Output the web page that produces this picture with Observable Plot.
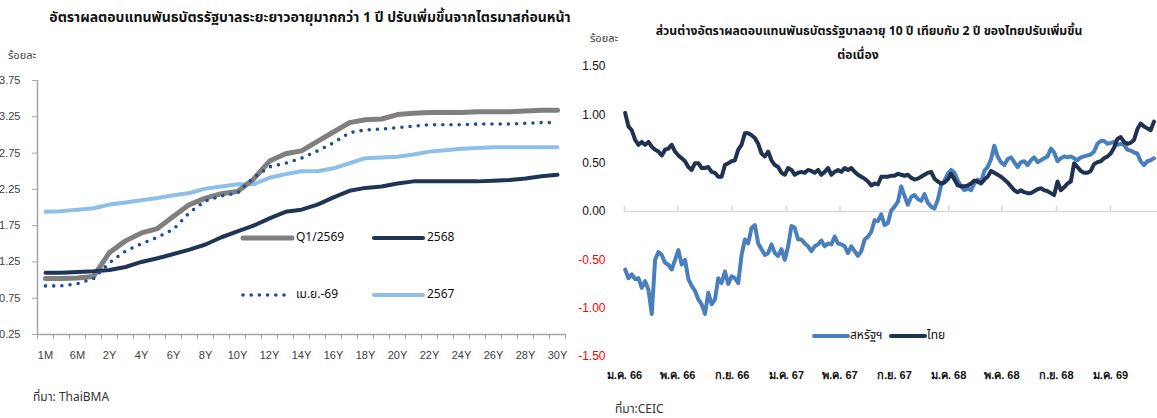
<!DOCTYPE html>
<html><head><meta charset="utf-8">
<script src="https://cdn.jsdelivr.net/npm/d3@7"></script>
<script src="https://cdn.jsdelivr.net/npm/@observablehq/plot@0.6"></script>
<style>
body{margin:0;background:#fff;}
#root{position:relative;width:1157px;height:418px;overflow:hidden;font-family:Tahoma,"Noto Sans Thai","Noto Sans","DejaVu Sans",sans-serif;color:#111;}
.abs{position:absolute;white-space:nowrap;line-height:1;}
.plot{position:absolute;}
</style></head><body><div id="root"></div>
<script>
// ---------- Left chart data: Thai government bond yield curve ----------
const tenors = ["1M","3M","6M","1Y","2Y","3Y","4Y","5Y","6Y","7Y","8Y","9Y","10Y","11Y","12Y","13Y","14Y","15Y","16Y","17Y","18Y","19Y","20Y","21Y","22Y","23Y","24Y","25Y","26Y","27Y","28Y","29Y","30Y"];
const yieldQ1_2569 = [1.02,1.02,1.03,1.05,1.38,1.54,1.65,1.71,1.88,2.04,2.13,2.19,2.22,2.39,2.64,2.74,2.78,2.91,3.04,3.17,3.21,3.22,3.28,3.30,3.31,3.31,3.31,3.32,3.32,3.32,3.33,3.34,3.34];
const yield2568 = [1.10,1.10,1.11,1.12,1.14,1.18,1.25,1.30,1.36,1.42,1.49,1.59,1.67,1.75,1.85,1.94,1.97,2.04,2.14,2.23,2.27,2.29,2.33,2.36,2.36,2.36,2.36,2.36,2.37,2.38,2.40,2.43,2.45];
const yieldApr69 = [0.92,0.92,0.95,1.02,1.24,1.40,1.50,1.59,1.70,1.93,2.09,2.16,2.20,2.41,2.56,2.61,2.68,2.78,2.89,3.03,3.07,3.08,3.10,3.12,3.14,3.14,3.14,3.15,3.15,3.15,3.16,3.17,3.17];
const yield2567 = [1.94,1.95,1.97,1.99,2.04,2.07,2.10,2.13,2.17,2.20,2.26,2.29,2.32,2.32,2.41,2.46,2.50,2.50,2.54,2.61,2.68,2.69,2.70,2.73,2.77,2.79,2.81,2.82,2.83,2.83,2.83,2.83,2.83];
const leftYTicks = [0.25,0.75,1.25,1.75,2.25,2.75,3.25,3.75];

// ---------- Right chart data: 10Y-2Y spread (readings about every 7.5 days from early Jan 2023) ----------
const spreadStart = "2023-01-02T12:00Z";
const spreadStepDays = 7.5;
const spreadThai = [
1.02,0.88,0.84,0.74,0.69,0.72,0.69,0.72,0.67,0.64,
0.62,0.58,0.64,0.65,0.69,0.62,0.58,0.55,0.52,0.46,
0.43,0.50,0.50,0.45,0.45,0.46,0.41,0.40,0.36,0.36,
0.48,0.50,0.52,0.53,0.64,0.69,0.81,0.81,0.79,0.76,
0.70,0.60,0.57,0.62,0.53,0.48,0.46,0.40,0.38,0.45,
0.43,0.38,0.40,0.41,0.40,0.43,0.42,0.40,0.43,0.38,
0.41,0.45,0.38,0.41,0.43,0.41,0.45,0.43,0.45,0.41,
0.38,0.36,0.34,0.31,0.27,0.29,0.28,0.36,0.36,0.36,
0.37,0.37,0.39,0.38,0.37,0.38,0.35,0.33,0.34,0.36,
0.38,0.40,0.41,0.34,0.31,0.29,0.30,0.33,0.39,0.33,
0.27,0.26,0.26,0.27,0.29,0.32,0.31,0.29,0.33,0.36,
0.42,0.40,0.38,0.36,0.33,0.30,0.26,0.22,0.20,0.22,
0.20,0.19,0.19,0.21,0.23,0.24,0.22,0.21,0.19,0.17,
0.31,0.22,0.25,0.29,0.31,0.50,0.46,0.42,0.40,0.40,
0.42,0.49,0.51,0.52,0.55,0.57,0.60,0.66,0.75,0.77,
0.72,0.70,0.71,0.74,0.85,0.91,0.88,0.86,0.84,0.93];
const spreadUS = [
-0.60,-0.69,-0.65,-0.70,-0.69,-0.79,-0.72,-0.81,-1.06,-0.50,
-0.42,-0.45,-0.53,-0.55,-0.60,-0.50,-0.40,-0.55,-0.50,-0.70,
-0.77,-0.82,-0.91,-0.96,-1.06,-0.84,-0.96,-0.91,-0.69,-0.74,
-0.62,-0.75,-0.67,-0.69,-0.74,-0.45,-0.29,-0.33,-0.17,-0.14,
-0.33,-0.39,-0.45,-0.43,-0.34,-0.43,-0.46,-0.39,-0.50,-0.36,
-0.15,-0.17,-0.29,-0.29,-0.33,-0.36,-0.41,-0.36,-0.34,-0.30,
-0.36,-0.33,-0.34,-0.26,-0.33,-0.34,-0.36,-0.43,-0.36,-0.41,
-0.46,-0.41,-0.29,-0.26,-0.21,-0.09,-0.10,-0.03,-0.14,-0.12,
0.01,0.05,0.10,0.26,0.16,0.07,0.15,0.17,0.13,0.11,
0.18,0.09,0.05,0.03,0.12,0.27,0.32,0.39,0.43,0.40,
0.32,0.26,0.22,0.24,0.22,0.29,0.33,0.30,0.42,0.46,
0.54,0.68,0.57,0.51,0.48,0.54,0.56,0.51,0.46,0.51,
0.52,0.48,0.53,0.56,0.51,0.53,0.55,0.57,0.65,0.61,
0.52,0.55,0.57,0.56,0.57,0.55,0.53,0.56,0.57,0.58,
0.59,0.62,0.70,0.73,0.73,0.70,0.71,0.72,0.69,0.70,
0.69,0.64,0.63,0.61,0.60,0.52,0.48,0.52,0.53,0.55];
const rightYTicksPos = [0, 0.5, 1.0, 1.5];
const rightYTicksNeg = [-0.5, -1.0, -1.5];
const thaiMonthAbbr = ["ม.ค.","ก.พ.","มี.ค.","เม.ย.","พ.ค.","มิ.ย.","ก.ค.","ส.ค.","ก.ย.","ต.ค.","พ.ย.","ธ.ค."];

const COLORS = {q1:"#7f7f7f", y68:"#1f3556", apr:"#1f4e96", y67:"#8dbfe8", us:"#4a7fbd", th:"#1f3250"};

const root = document.getElementById("root");
function addText(txt, css){ const d=document.createElement("div"); d.className="abs"; d.textContent=txt; Object.assign(d.style, css); root.appendChild(d); return d; }
function addSwatch(left, top, w, color, sw, dash){
  const ns="http://www.w3.org/2000/svg";
  const s=document.createElementNS(ns,"svg"); s.setAttribute("width",w+8); s.setAttribute("height",12);
  s.style.position="absolute"; s.style.left=(left-4)+"px"; s.style.top=(top-6)+"px";
  const l=document.createElementNS(ns,"line"); l.setAttribute("x1",4); l.setAttribute("x2",w+4); l.setAttribute("y1",6); l.setAttribute("y2",6);
  l.setAttribute("stroke",color); l.setAttribute("stroke-width",sw); l.setAttribute("stroke-linecap","round");
  if(dash) l.setAttribute("stroke-dasharray",dash);
  s.appendChild(l); root.appendChild(s);
}

// ---------- Left chart ----------
const leftRows = [];
tenors.forEach((t,i)=>{
  leftRows.push({i, v: yield2567[i], s:"2567"});
  leftRows.push({i, v: yieldQ1_2569[i], s:"Q1/2569"});
  leftRows.push({i, v: yield2568[i], s:"2568"});
  leftRows.push({i, v: yieldApr69[i], s:"apr"});
});
const idx = tenors.map((_,i)=>i);
const labelIdx = idx.filter(i=>i%2===0);
const boundaries = d3.range(-0.5, tenors.length, 1);

const left = Plot.plot({
  width: 570, height: 310,
  marginLeft: 37, marginRight: 5, marginTop: 20, marginBottom: 36,
  style: {background:"transparent", fontFamily:"Tahoma, 'Liberation Sans', sans-serif", fontSize:"11px", color:"#404040"},
  x: {type:"linear", domain:[-0.5, tenors.length-0.5]},
  y: {domain:[0.25, 3.75]},
  marks: [
    Plot.ruleX([-0.5], {stroke:"#a6a6a6", strokeWidth:1.5}),
    Plot.ruleY([0.25], {stroke:"#a6a6a6", strokeWidth:1.5}),
    Plot.axisY({ticks: leftYTicks, tickFormat: d=>d.toFixed(2), tickSize:5, tickPadding:12, stroke:"#a6a6a6", fill:"#404040", label:null}),
    Plot.axisX({ticks: boundaries, tickFormat: ()=>"", tickSize:5, stroke:"#a6a6a6", label:null}),
    Plot.axisX({ticks: labelIdx, tickFormat: i=>tenors[i], tickSize:0, tickPadding:17, fill:"#404040", label:null}),
    Plot.line(leftRows.filter(d=>d.s==="2567"), {x:"i", y:"v", stroke:COLORS.y67, strokeWidth:4}),
    Plot.line(leftRows.filter(d=>d.s==="Q1/2569"), {x:"i", y:"v", stroke:COLORS.q1, strokeWidth:5}),
    Plot.line(leftRows.filter(d=>d.s==="2568"), {x:"i", y:"v", stroke:COLORS.y68, strokeWidth:4}),
    Plot.line(leftRows.filter(d=>d.s==="apr"), {x:"i", y:"v", stroke:COLORS.apr, strokeWidth:3.6, strokeDasharray:"0 8.2", strokeLinecap:"round"})
  ]
});
left.classList.add("plot"); left.style.left="0px"; left.style.top="60px";
root.appendChild(left);

// ---------- Right chart ----------
const t0 = new Date(spreadStart).getTime();
const spreadRows = [];
spreadUS.forEach((v,k)=>spreadRows.push({date:new Date(t0 + k*spreadStepDays*864e5), v, s:"us"}));
spreadThai.forEach((v,k)=>spreadRows.push({date:new Date(t0 + k*spreadStepDays*864e5), v, s:"th"}));
const xTicks = d3.utcMonth.every(4).range(new Date(Date.UTC(2023,0,1)), new Date(Date.UTC(2026,1,1)));
const fmtThai = d => thaiMonthAbbr[d.getUTCMonth()] + " " + String((d.getUTCFullYear()+543)%100);

const right = Plot.plot({
  width: 592, height: 338,
  marginLeft: 59, marginRight: 0, marginTop: 16, marginBottom: 32,
  style: {background:"transparent", fontFamily:"Tahoma, 'Liberation Sans', sans-serif", fontSize:"12px", color:"#111"},
  x: {type:"utc", domain:[new Date(Date.UTC(2023,0,1)), new Date(Date.UTC(2026,3,17))]},
  y: {domain:[-1.5, 1.5]},
  marks: [
    Plot.ruleY([0], {stroke:"#d9d9d9", strokeWidth:1.5}),
    Plot.ruleX(xTicks, {x:d=>d, y1:0, y2:0.055, stroke:"#d9d9d9", strokeWidth:1.5}),
    Plot.axisY({ticks: rightYTicksPos, tickFormat: d=>d.toFixed(2), tickSize:0, tickPadding:19, fill:"#111", label:null}),
    Plot.axisY({ticks: rightYTicksNeg, tickFormat: d=>d.toFixed(2), tickSize:0, tickPadding:19, fill:"#ff0000", label:null}),
    Plot.axisX({ticks: xTicks, tickFormat: fmtThai, tickSize:0, tickPadding:15, fill:"#111", fontWeight:"bold", fontSize:11, label:null}),
    Plot.line(spreadRows.filter(d=>d.s==="us"), {x:"date", y:"v", stroke:COLORS.us, strokeWidth:4, strokeLinejoin:"round"}),
    Plot.line(spreadRows.filter(d=>d.s==="th"), {x:"date", y:"v", stroke:COLORS.th, strokeWidth:4, strokeLinejoin:"round"})
  ]
});
right.classList.add("plot"); right.style.left="565px"; right.style.top="50px";
root.appendChild(right);

// ---------- Texts ----------
addText("อัตราผลตอบแทนพันธบัตรรัฐบาลระยะยาวอายุมากกว่า 1 ปี ปรับเพิ่มขึ้นจากไตรมาสก่อนหน้า", {left:"0px", width:"620px", textAlign:"center", top:"11px", fontSize:"14px", fontWeight:"bold"});
addText("ร้อยละ", {left:"8px", top:"50px", fontSize:"11px", color:"#404040"});
addText("ที่มา: ThaiBMA", {left:"33px", top:"391px", fontSize:"12px", color:"#333"});

addText("ส่วนต่างอัตราผลตอบแทนพันธบัตรรัฐบาลอายุ 10 ปี เทียบกับ 2 ปี ของไทยปรับเพิ่มขึ้น", {left:"600px", width:"538px", textAlign:"center", top:"25px", fontSize:"12.2px", fontWeight:"bold"});
addText("ต่อเนื่อง", {left:"600px", width:"516px", textAlign:"center", top:"49px", fontSize:"12.2px", fontWeight:"bold"});
addText("ร้อยละ", {left:"590px", top:"33px", fontSize:"11px", color:"#404040"});
addText("ที่มา:CEIC", {left:"615px", top:"403px", fontSize:"12px", color:"#333"});

// Left legend
addSwatch(243, 238, 49, COLORS.q1, 5);
addText("Q1/2569", {left:"296px", top:"231px", fontSize:"12px"});
addSwatch(374, 238, 49, COLORS.y68, 4);
addText("2568", {left:"427px", top:"231px", fontSize:"12px"});
addSwatch(243, 295, 47, COLORS.apr, 3.6, "0 8.2");
addText("เม.ย.-69", {left:"296px", top:"288px", fontSize:"12px"});
addSwatch(374, 295, 49, COLORS.y67, 4);
addText("2567", {left:"427px", top:"288px", fontSize:"12px"});

// Right legend
addSwatch(814, 336, 34, COLORS.us, 4);
addText("สหรัฐฯ", {left:"850px", top:"329px", fontSize:"12px"});
addSwatch(891, 336, 34, COLORS.th, 4);
addText("ไทย", {left:"927px", top:"329px", fontSize:"12px"});
</script></body></html>
